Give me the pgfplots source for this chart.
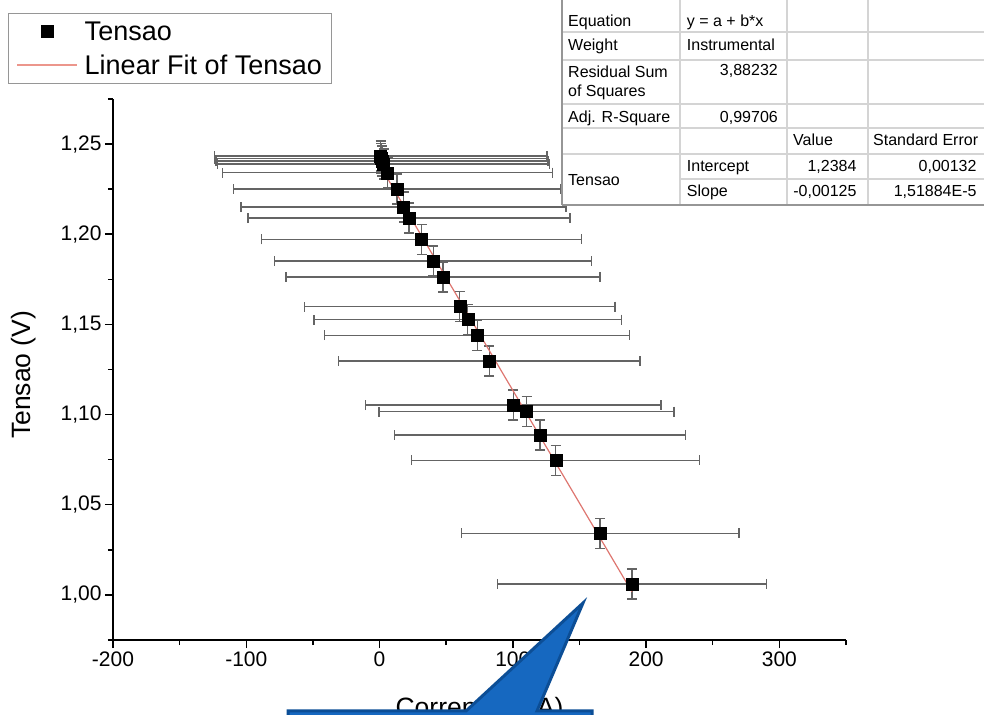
\documentclass[border=0pt]{standalone}
\usepackage{pgfplots}
\pgfplotsset{compat=1.18}
\usepackage{pgfplotstable}
\usepackage{fontspec}
\setmainfont{Liberation Sans}
\definecolor{fitred}{RGB}{222,118,112}
\definecolor{legred}{RGB}{236,150,140}
\definecolor{errgray}{RGB}{100,100,100}
\definecolor{callfill}{RGB}{22,104,192}
\definecolor{calldraw}{RGB}{12,78,150}
\definecolor{gridgray}{RGB}{212,212,212}
\definecolor{bordgray}{RGB}{150,150,150}

\pgfplotsset{
  legmark/.style={legend image code/.code={\draw[##1, draw=black, fill=black] plot coordinates {(30pt,0pt)};}},
  legline/.style={legend image code/.code={\draw[draw=legred, line width=1.2pt] (0pt,0pt) -- (60pt,0pt);}},
}

\pgfplotstableread{
x      y       ex     ey
0.75   1.2434  124.8  0.0083
1.1    1.2420  124.8  0.0083
1.9    1.2406  124.6  0.0083
3.0    1.2389  124.5  0.0083
6.0    1.2341  123.6  0.0083
13.1   1.2251  122.6  0.0083
18.0   1.2151  121.9  0.0083
22.1   1.2090  120.8  0.0083
31.5   1.1972  120.0  0.0083
40.3   1.1851  118.9  0.0083
47.6   1.1763  117.8  0.0083
60.2   1.1599  116.5  0.0083
66.2   1.1527  115.4  0.0083
73.3   1.1440  114.5  0.0083
82.3   1.1297  113.1  0.0083
100.3  1.1053  110.9  0.0083
110.3  1.1016  110.6  0.0083
120.4  1.0887  109.1  0.0083
132.2  1.0747  108.0  0.0083
165.5  1.0342  104.1  0.0083
189.4  1.0061  101.0  0.0083
}\tensao

\begin{document}
\begin{tikzpicture}[x=1pt,y=1pt]
\useasboundingbox (0,0) rectangle (984,714);
\begin{axis}[
  at={(113pt,74pt)}, anchor=south west,
  scale only axis, width=733pt, height=541pt,
  xmin=-200, xmax=350, ymin=0.975, ymax=1.275,
  axis x line*=bottom, axis y line*=left,
  axis line style={line width=1.5pt, -, black},
  tick align=outside,
  xtick={-200,-100,0,100,200,300},
  xticklabels={-200,-100,0,100,200,300},
  minor xtick={-150,-50,50,150,250,350},
  ytick={1.00,1.05,1.10,1.15,1.20,1.25},
  yticklabels={{1,00},{1,05},{1,10},{1,15},{1,20},{1,25}},
  minor ytick={0.975,1.025,1.075,1.125,1.175,1.225,1.275},
  major tick length=8pt, minor tick length=5pt,
  tick style={black, line width=1.5pt},
  /pgf/number format/assume math mode=true,
  tick label style={font=\fontsize{21}{21}\selectfont},
  xlabel={Corrente (mA)}, ylabel={Tensao (V)},
  label style={font=\fontsize{26.5}{26.5}\selectfont},
  xlabel style={at={(axis description cs:0.5,-0.1405)}, anchor=base},
  ylabel style={at={(axis description cs:-0.1214,0.49)}, anchor=center},
  legend style={at={(axis description cs:-0.1432,1.159)}, anchor=north west,
    draw=bordgray, line width=1pt, fill=white, font=\fontsize{27}{27}\selectfont,
    inner xsep=8pt, inner ysep=6pt, row sep=9pt, column sep=5pt,
    nodes={inner sep=2pt}},
  legend cell align=left,
  clip=false,
]
\addplot[only marks, mark=square*, mark size=6pt,
  mark options={fill=black, draw=black, line width=0.4pt},
  legmark,
  error bars/.cd, x dir=both, x explicit, y dir=both, y explicit,
  error bar style={errgray, line width=1.3pt},
  error mark options={errgray, line width=1.3pt, mark size=5pt, rotate=90}]
  table[x=x, y=y, x error=ex, y error=ey]{\tensao};
\addlegendentry{Tensao}
\addplot[fitred, line width=1.2pt, legline]
  coordinates {(0.75,1.2375) (189.4,1.0017)};
\addlegendentry{Linear Fit of Tensao}
\end{axis}

% results table (top right)
\begin{scope}[font=\fontsize{16}{19}\selectfont]
\fill[white] (562,714) rectangle (990,509);
\foreach \yy in {32,60,104,128,154} {\draw[gridgray, line width=1.3pt] (562,714-\yy) -- (990,714-\yy);}
\draw[gridgray, line width=1.3pt] (680,714-179) -- (990,714-179);
\foreach \xx in {680,787,868} {\draw[gridgray, line width=1.3pt] (\xx,714) -- (\xx,714-204);}
\draw[bordgray, line width=1.3pt] (562,714) -- (562,714-205);
\draw[bordgray, line width=2.6pt] (562,714-205) -- (990,714-205);
\node[anchor=base west, inner sep=0] at (568,714-26.4) {Equation};
\node[anchor=base west, inner sep=0] at (686.7,714-26.4) {y = a + b*x};
\node[anchor=base west, inner sep=0] at (568,714-50.7) {Weight};
\node[anchor=base west, inner sep=0] at (686.7,714-50.7) {Instrumental};
\node[anchor=base west, inner sep=0] at (568,714-77.4) {Residual Sum};
\node[anchor=base west, inner sep=0] at (568,714-96.4) {of Squares};
\node[anchor=base east, inner sep=0] at (778,714-76) {3,88232};
\node[anchor=base west, inner sep=0] at (568,714-122.4) {Adj. R-Square};
\node[anchor=base east, inner sep=0] at (778,714-122.4) {0,99706};
\node[anchor=base west, inner sep=0] at (793,714-145.7) {Value};
\node[anchor=base west, inner sep=0] at (873,714-145.7) {Standard Error};
\node[anchor=base west, inner sep=0] at (568,714-185.7) {Tensao};
\node[anchor=base west, inner sep=0] at (686.7,714-171.4) {Intercept};
\node[anchor=base east, inner sep=0] at (856.7,714-171.4) {1,2384};
\node[anchor=base east, inner sep=0] at (976.7,714-171.4) {0,00132};
\node[anchor=base west, inner sep=0] at (686.7,714-196.4) {Slope};
\node[anchor=base east, inner sep=0] at (856.7,714-196.4) {-0,00125};
\node[anchor=base east, inner sep=0] at (976.7,714-196.4) {1,51884E-5};
\end{scope}

% callout overlay
\filldraw[fill=callfill, draw=calldraw, line width=3pt, line join=miter]
  (288,3) -- (466,3) -- (583,111) -- (537,3) -- (592,3) -- (592,-40) -- (288,-40) -- cycle;
\end{tikzpicture}
\end{document}
